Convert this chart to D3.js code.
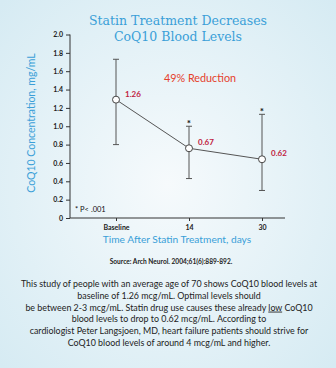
<!DOCTYPE html>
<html>
<head>
<meta charset="utf-8">
<script src="https://cdn.jsdelivr.net/npm/d3@7"></script>
<style>
  body { margin: 0; }
  svg { display: block; }
</style>
</head>
<body>
<svg id="chart" width="336" height="368"></svg>
<script>
// data
let categories = ["Baseline", "14", "30"];
let means = [1.29, 0.76, 0.64];
let errHigh = [1.73, 1.00, 1.13];
let errLow = [0.80, 0.43, 0.30];
let valueLabels = ["1.26", "0.67", "0.62"];
let significant = [false, true, true];
let yTicks = [0, 0.2, 0.4, 0.6, 0.8, 1.0, 1.2, 1.4, 1.6, 1.8, 2.0];
let paragraph = [
    "This study of people with an average age of 70 shows CoQ10 blood levels at",
    "baseline of 1.26 mcg/mL. Optimal levels should",
    "be between 2-3 mcg/mL. Statin drug use causes these already _low_ CoQ10",
    "blood levels to drop to 0.62 mcg/mL. According to",
    "cardiologist Peter Langsjoen, MD, heart failure patients should strive for",
    "CoQ10 blood levels of around 4 mcg/mL and higher."
];

let svg = d3.select('#chart');
let BLUE = '#3a9fd8';
let SANS = 'Lato, "Open Sans", sans-serif';

// background
let grad = svg.append('defs').append('radialGradient')
    .attr('id', 'bg').attr('cx', '50%').attr('cy', '50%').attr('r', '70%');
grad.append('stop').attr('offset', '0%').attr('stop-color', '#f6fafc');
grad.append('stop').attr('offset', '100%').attr('stop-color', '#d6ebf3');
svg.append('rect').attr('width', 336).attr('height', 368).attr('fill', 'url(#bg)');

// title
svg.append('text')
    .attr('x', 178).attr('y', 25)
    .attr('text-anchor', 'middle')
    .style('font-family', '"DejaVu Serif", serif')
    .style('font-size', '12.5px')
    .attr('fill', BLUE)
    .selectAll('tspan')
    .data(["Statin Treatment Decreases", "CoQ10 Blood Levels"])
    .join('tspan')
    .attr('x', 178)
    .attr('dy', (d, i) => i ? 16 : 0)
    .text(d => d);

let xScale = d3.scalePoint()
    .domain(categories)
    .range([116, 262]);

let yScale = d3.scaleLinear()
    .domain([0, 2])
    .range([218, 34.5]);

// y axis
let yAxis = svg.append('g')
    .attr('transform', 'translate(70,0)')
    .call(d3.axisLeft(yScale)
        .tickValues(yTicks)
        .tickSize(4)
        .tickPadding(3)
        .tickFormat(d => d === 0 ? "0" : d3.format(".1f")(d)));
yAxis.select('.domain').attr('stroke', '#333').attr('d', 'M0,34.5V218');
yAxis.selectAll('.tick line').attr('stroke', '#333');
yAxis.selectAll('text')
    .style('font-family', SANS)
    .style('font-size', '7px')
    .style('font-weight', 'bold')
    .attr('fill', '#222');

// x axis
let xAxis = svg.append('g')
    .attr('transform', 'translate(0,218)')
    .call(d3.axisBottom(xScale)
        .tickSize(3)
        .tickPadding(4));
xAxis.select('.domain').attr('stroke', '#333').attr('d', 'M70,0H285');
xAxis.selectAll('.tick line').attr('stroke', '#333');
xAxis.selectAll('text')
    .style('font-family', SANS)
    .style('font-size', '7px')
    .style('font-weight', 'bold')
    .attr('fill', '#222');

// axis titles
svg.append('text')
    .attr('transform', 'translate(35,123) rotate(-90)')
    .attr('text-anchor', 'middle')
    .style('font-family', SANS)
    .style('font-size', '10.5px')
    .attr('fill', BLUE)
    .text('CoQ10 Concentration, mg/mL');

svg.append('text')
    .attr('x', 177).attr('y', 243)
    .attr('text-anchor', 'middle')
    .style('font-family', SANS)
    .style('font-size', '10.2px')
    .attr('fill', BLUE)
    .text('Time After Statin Treatment, days');

// error bars
let bars = svg.append('g').attr('id', 'errors')
    .selectAll('g')
    .data(categories)
    .join('g');
bars.append('line')
    .attr('x1', d => xScale(d)).attr('x2', d => xScale(d))
    .attr('y1', (d, i) => yScale(errHigh[i]))
    .attr('y2', (d, i) => yScale(errLow[i]))
    .attr('stroke', '#555').attr('stroke-width', 1);
bars.append('line')
    .attr('x1', d => xScale(d) - 3).attr('x2', d => xScale(d) + 3)
    .attr('y1', (d, i) => yScale(errHigh[i]))
    .attr('y2', (d, i) => yScale(errHigh[i]))
    .attr('stroke', '#555');
bars.append('line')
    .attr('x1', d => xScale(d) - 3).attr('x2', d => xScale(d) + 3)
    .attr('y1', (d, i) => yScale(errLow[i]))
    .attr('y2', (d, i) => yScale(errLow[i]))
    .attr('stroke', '#555');

// mean line
svg.append('path')
    .datum(categories)
    .attr('fill', 'none')
    .attr('stroke', '#555')
    .attr('stroke-width', 1)
    .attr('d', d3.line()
        .x(d => xScale(d))
        .y((d, i) => yScale(means[i])));

svg.append('g')
    .selectAll('circle')
    .data(categories)
    .join('circle')
    .attr('cx', d => xScale(d))
    .attr('cy', (d, i) => yScale(means[i]))
    .attr('r', 3.5)
    .attr('fill', 'white')
    .attr('stroke', '#444')
    .attr('stroke-width', 1);

// significance stars
svg.append('g')
    .selectAll('text')
    .data(categories.filter((d, i) => significant[i]))
    .join('text')
    .attr('x', d => xScale(d))
    .attr('y', d => yScale(errHigh[categories.indexOf(d)]) + 1)
    .attr('text-anchor', 'middle')
    .style('font-family', SANS)
    .style('font-size', '10px')
    .style('font-weight', 'bold')
    .attr('fill', '#111')
    .text('*');

// value labels
svg.append('g')
    .selectAll('text')
    .data(categories)
    .join('text')
    .attr('x', d => xScale(d) + 9)
    .attr('y', (d, i) => yScale(means[i]) - 3)
    .style('font-family', SANS)
    .style('font-size', '8px')
    .style('font-weight', 'bold')
    .attr('fill', '#c0213f')
    .text((d, i) => valueLabels[i]);

svg.append('text')
    .attr('x', 200).attr('y', 82)
    .attr('text-anchor', 'middle')
    .style('font-family', SANS)
    .style('font-size', '10.8px')
    .attr('fill', '#e5402b')
    .text('49% Reduction');

svg.append('text')
    .attr('x', 75).attr('y', 212)
    .style('font-family', SANS)
    .style('font-size', '7.5px')
    .attr('fill', '#111')
    .text('* P< .001');

// source
svg.append('text')
    .attr('x', 171).attr('y', 264)
    .attr('text-anchor', 'middle')
    .style('font-family', SANS)
    .style('font-size', '6.6px')
    .style('font-weight', 'bold')
    .attr('fill', '#222')
    .text('Source: Arch Neurol. 2004;61(6):889-892.');

// paragraph, words wrapped in _ _ are underlined
let para = svg.append('g')
    .attr('text-anchor', 'middle')
    .style('font-family', SANS)
    .style('font-size', '8.9px')
    .attr('fill', '#222');
para.selectAll('text')
    .data(paragraph)
    .join('text')
    .attr('x', 169)
    .attr('y', (d, i) => 287 + i * 11.8)
    .selectAll('tspan')
    .data(d => d.split('_'))
    .join('tspan')
    .style('text-decoration', (d, i) => i % 2 ? 'underline' : null)
    .text(d => d);
</script>
</body>
</html>
